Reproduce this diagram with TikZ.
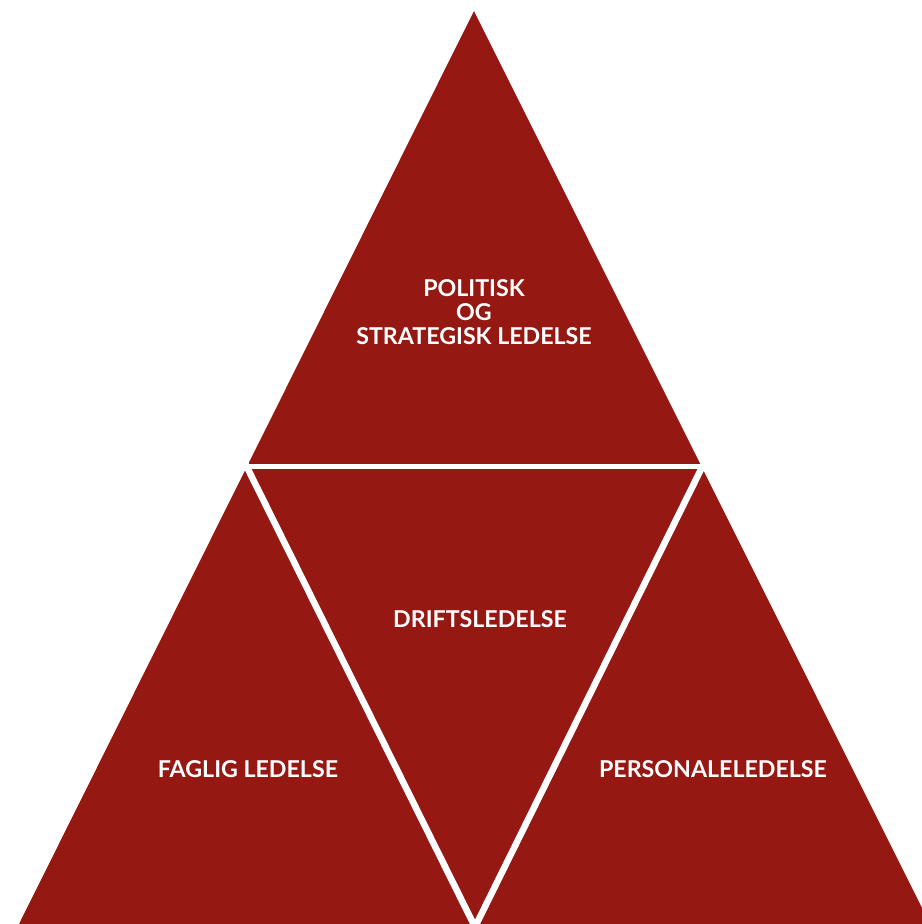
\documentclass[tikz,border=0pt]{standalone}
\usepackage{fontspec}
\setmainfont{Lato}
\definecolor{ledrot}{RGB}{149,24,19}
\tikzset{etikett/.style={text=white,font=\bfseries\fontsize{13.2}{13.8}\selectfont,align=center}}
\begin{document}
\begin{tikzpicture}[x=0.02cm,y=-0.02cm]
  \useasboundingbox (0,0) rectangle (922,924);
  \clip (0,0) rectangle (922,924);
  \fill[ledrot] (19,924)--(474,11)--(930,924)--cycle; %stor trekant
  \draw[white,line width=0.1cm] (220,466.5)--(730,466.5); %vandret skillelinje
  \draw[white,line width=0.13cm] (236,445)--(475,927)--(713,445); %omvendt trekant

  \node[etikett] (politisk) at (474,312) {POLITISK\\OG\\STRATEGISK LEDELSE};
  \node[etikett] (drift) at (480,619) {DRIFTSLEDELSE};
  \node[etikett] (faglig) at (248,769) {FAGLIG LEDELSE};
  \node[etikett] (personale) at (713,769) {PERSONALELEDELSE};
\end{tikzpicture}
\end{document}
